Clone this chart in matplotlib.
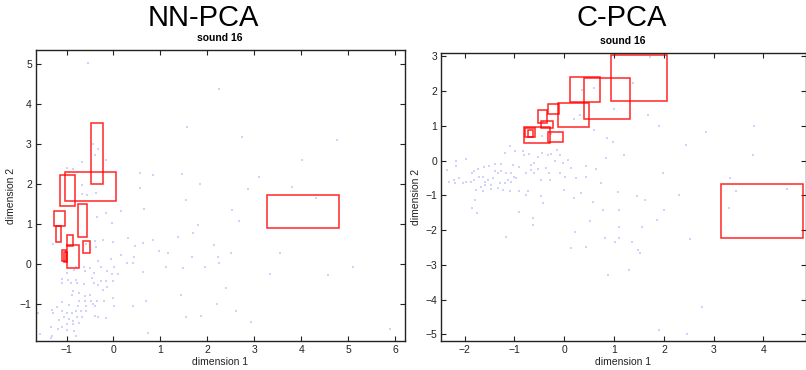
import matplotlib
matplotlib.use("Agg")
import matplotlib.pyplot as plt
from matplotlib.patches import Rectangle
import numpy as np

plt.rcParams['font.family'] = ['Liberation Sans', 'DejaVu Sans']

# ---------------- NN-PCA data ----------------
nn_px = [-1.28,-0.39,-0.22,-0.02,0.31,0.63,0.85,1.38,0.45,-0.59,-0.38,0.16,0.44,-0.06,-0.33,-0.63,-0.50,-0.79,-0.26,0.02,
         0.28,0.41,-0.60,-0.41,-0.14,-0.03,0.09,0.63,1.12,1.49,1.94,2.24,2.50,2.22,1.67,1.17,0.98,1.69,2.15,-0.84,
         -0.99,-0.97,-1.09,-0.80,-0.46,-0.27,-0.16,-0.02,-0.41,-0.62,-0.77,-0.91,-1.10,-0.13,-0.32,-0.23,-0.02,-0.87,-0.74,-0.89,
         -0.60,-0.50,-0.73,-0.60,-0.48,-0.36,-0.20,-1.09,-0.94,-0.75,-0.58,-0.43,-0.40,0.02,0.41,0.69,1.44,2.40,2.21,-1.31,
         -1.21,-1.09,-0.99,-0.89,-0.80,-0.69,-0.59,-1.28,-1.61,-1.05,-0.94,-0.87,-0.78,-0.66,-0.40,-0.33,-0.16,-1.16,-1.09,-0.98,
         -0.87,-0.74,-1.33,-1.19,-0.98,-0.84,-1.30,-1.33,-0.80,-1.56,1.54,1.87,0.74,
         0.56,1.84,2.87,3.81,1.54,0.66,2.52,2.67,1.80,4.32,0.16,-0.36,-0.15,-0.03,-0.68,-0.38,-0.57,
         3.33,3.55,4.58,5.11,5.89,2.94,2.62,
         -0.55,2.25,1.57,2.74,4.77,4.02,-0.67,-0.43,-0.34,-0.39,-0.155,0.57,0.85,1.47,3.09,-0.68,-1.00,-0.87]
nn_py = [0.49,0.58,0.60,0.54,0.64,0.52,0.60,0.67,0.45,0.49,0.42,0.225,0.17,0.12,0.06,-0.07,-0.11,-0.08,-0.07,-0.08,
         0.02,0.03,-0.19,-0.23,-0.19,-0.25,-0.26,-0.21,-0.08,-0.11,-0.08,0.02,0.27,0.18,0.18,0.28,0.31,0.77,0.475,-0.15,
         -0.23,-0.40,-0.375,-0.40,-0.36,-0.42,-0.42,-0.44,-0.47,-0.50,-0.47,-0.48,-0.48,-0.58,-0.53,-0.65,-0.86,-0.675,-0.73,-0.78,
         -0.81,-0.775,-0.92,-0.925,-0.92,-0.94,-0.92,-0.96,-1.03,-1.05,-1.05,-1.00,-1.05,-1.05,-1.05,-0.925,-0.775,-0.61,-1.01,-1.15,
         -1.07,-1.19,-1.23,-1.22,-1.175,-1.175,-1.175,-1.23,-1.23,-1.33,-1.38,-1.42,-1.33,-1.33,-1.30,-1.33,-1.36,-1.40,-1.57,-1.50,
         -1.51,-1.47,-1.57,-1.63,-1.65,-1.69,-1.80,-1.86,-1.80,-1.76,-1.34,-1.30,-1.72,
         1.89,1.99,1.875,1.93,1.60,1.37,1.35,1.07,0.975,1.64,1.31,1.18,1.27,1.02,1.74,1.77,1.725,
         -0.26,0.27,-0.29,-0.09,-1.625,-1.46,-1.17,
         5.02,4.37,3.42,3.18,3.09,2.60,2.54,3.00,2.88,2.73,2.60,2.27,2.225,2.25,2.18,1.975,2.39,2.37]

# rectangles: x0, x1, y0, y1
nn_rx0 = [-0.47,-1.03,-1.14,-1.26,-1.22,-0.76,-0.98,-0.65,-1.00,-1.09,-1.06,3.28]
nn_rx1 = [-0.23, 0.06,-0.82,-1.03,-1.12,-0.57,-0.87,-0.49,-0.73,-1.02,-1.00,4.80]
nn_ry0 = [ 2.00, 1.58, 1.44, 0.95, 0.55, 0.675,0.45, 0.27,-0.10, 0.06, 0.05,0.90]
nn_ry1 = [ 3.53, 2.31, 2.22, 1.31, 0.94, 1.49, 0.71, 0.56, 0.47, 0.35, 0.30,1.72]

# ---------------- C-PCA data ----------------
c_px = [-1.10,-1.20,-0.99,-0.83,-0.80,-0.71,-0.53,-0.45,-0.33,-0.26,-0.14,-0.09,0.07,-0.19,-0.03,0.13,-0.36,-0.53,-0.67,-0.61,
        -0.67,-0.90,-1.03,-1.27,-1.40,-1.52,-1.62,-1.74,-1.81,-1.86,-1.97,-2.17,-2.18,-2.36,-2.31,-2.21,-2.20,-2.11,-2.03,-1.97,
        -1.87,-1.81,-1.71,-1.64,-1.60,-1.54,-1.44,-1.40,-1.34,-1.27,-1.17,-1.07,-1.00,-0.97,-1.14,-1.07,-1.20,-1.30,-1.47,-1.60,
        -1.67,-1.77,-1.64,-1.47,-1.34,-1.24,-1.10,-0.90,-0.72,-0.77,-0.60,-0.46,-0.30,-0.28,-0.09,0.01,0.00,0.24,0.44,0.74,
        0.43,0.64,0.83,0.86,0.98,1.20,0.59,-0.26,-0.45,-0.77,-0.46,0.19,0.34,0.58,0.78,1.08,1.47,-1.79,-1.86,-1.75,
        -0.90,-0.63,-0.62,-0.43,0.21,0.51,1.09,1.10,1.10,0.81,0.13,0.44,-1.17,1.01,1.35,
        1.56,1.86,2.52,2.30,2.00,1.63,1.29,0.87,2.77,1.90,2.47,3.44,3.31,4.48,1.49,1.53,
        0.355,0.59,1.38,1.72,0.99,0.19,-0.42,1.68,1.91,2.44,2.84,3.81,3.78,3.33,1.99,0.32]
c_py = [0.41,0.22,0.29,0.28,0.17,0.19,0.12,0.22,0.15,0.19,0.31,0.15,0.02,-0.02,-0.07,-0.20,-0.22,-0.25,-0.12,-0.07,
        -0.28,-0.17,-0.12,-0.10,-0.09,-0.15,-0.19,-0.25,-0.31,-0.36,0.04,-0.02,-0.14,-0.26,-0.60,-0.55,-0.63,-0.50,-0.63,-0.60,
        -0.60,-0.55,-0.46,-0.46,-0.60,-0.55,-0.50,-0.31,-0.36,-0.31,-0.34,-0.36,-0.46,-0.50,-0.55,-0.60,-0.65,-0.63,-0.70,-0.70,
        -0.76,-0.84,-0.87,-0.82,-0.79,-0.84,-0.86,-0.87,-0.86,-0.36,-0.36,-0.55,-0.36,-0.55,-0.36,-0.46,-0.84,-0.50,-0.46,-0.65,
        -0.14,-0.25,0.07,0.65,0.53,0.17,0.89,0.76,0.72,-0.99,-1.03,-1.08,-0.94,-1.18,-1.42,-0.89,-1.03,-1.13,-1.37,-1.51,
        -1.47,-1.66,-1.85,-1.23,-2.04,-1.75,-1.42,-1.90,-2.23,-2.23,-2.52,-2.49,-2.21,-2.33,-2.33,
        -1.92,-1.71,-2.26,-0.99,-1.42,-1.13,-3.15,-3.30,-4.22,-4.86,-5.00,-0.86,-1.37,-0.82,-2.57,-2.65,
        2.04,2.09,2.25,2.98,1.48,1.19,1.10,1.32,1.01,0.44,0.84,1.00,0.16,-0.51,-0.34,1.32]

c_rx0 = [0.93,0.39,0.11,-0.13,-0.32,-0.52,-0.46,-0.81,-0.32,-0.79,-0.73,3.14]
c_rx1 = [2.06,1.31,0.71, 0.50,-0.10,-0.35,-0.23,-0.28,-0.03,-0.58,-0.62,4.80]
c_ry0 = [1.71,1.20,1.69, 0.98, 1.33, 1.08, 0.94, 0.50, 0.53, 0.69, 0.67,-2.23]
c_ry1 = [3.05,2.37,2.41, 1.67, 1.64, 1.45, 1.14, 0.97, 0.82, 0.94, 0.88,-0.68]

fig = plt.figure(figsize=(8.06, 3.70), dpi=100)

def setup(ax, xlim, ylim, xticks, yticks):
    ax.set_xlim(*xlim)
    ax.set_ylim(*ylim)
    ax.set_xticks(xticks)
    ax.set_yticks(yticks)
    ax.tick_params(direction='in', length=3.5, width=0.8, labelsize=7.5,
                   top=True, right=True, pad=3, colors='#222222')
    for s in ax.spines.values():
        s.set_linewidth(1.0)
        s.set_color('#222222')
    ax.set_xlabel('dimension 1', fontsize=7.5, labelpad=1, color='#222222')
    ax.set_ylabel('dimension 2', fontsize=7.5, labelpad=3, color='#222222')

def draw(ax, px, py, rx0, rx1, ry0, ry1):
    ax.scatter(px, py, s=0.9, marker='s', color='#9a9aff', alpha=0.45, linewidths=0, zorder=1)
    for a, b, c, d in zip(rx0, rx1, ry0, ry1):
        ax.add_patch(Rectangle((a, c), b - a, d - c, fill=False, edgecolor='red',
                               linewidth=1.1, alpha=0.85, zorder=2, clip_on=True))

ax1 = fig.add_axes([36/806, 29/370, 369/806, 291/370])
draw(ax1, nn_px, nn_py, nn_rx0, nn_rx1, nn_ry0, nn_ry1)
setup(ax1, (-1.65, 6.21), (-1.93, 5.35), range(-1, 7), range(-1, 6))

ax2 = fig.add_axes([441.3/806, 29/370, 364.5/806, 288/370])
draw(ax2, c_px, c_py, c_rx0, c_rx1, c_ry0, c_ry1)
setup(ax2, (-2.47, 4.85), (-5.19, 3.10), range(-2, 5), range(-5, 4))

fig.text(203/806, 1 - 18/370, 'NN-PCA', ha='center', va='center', fontsize=21)
fig.text(220/806, 1 - 38/370, 'sound 16', ha='center', va='center', fontsize=7.5, fontweight='bold')
fig.text(622/806, 1 - 18/370, 'C-PCA', ha='center', va='center', fontsize=21)
fig.text(623/806, 1 - 41/370, 'sound 16', ha='center', va='center', fontsize=7.5, fontweight='bold')

fig.savefig('out.png', dpi=100)
